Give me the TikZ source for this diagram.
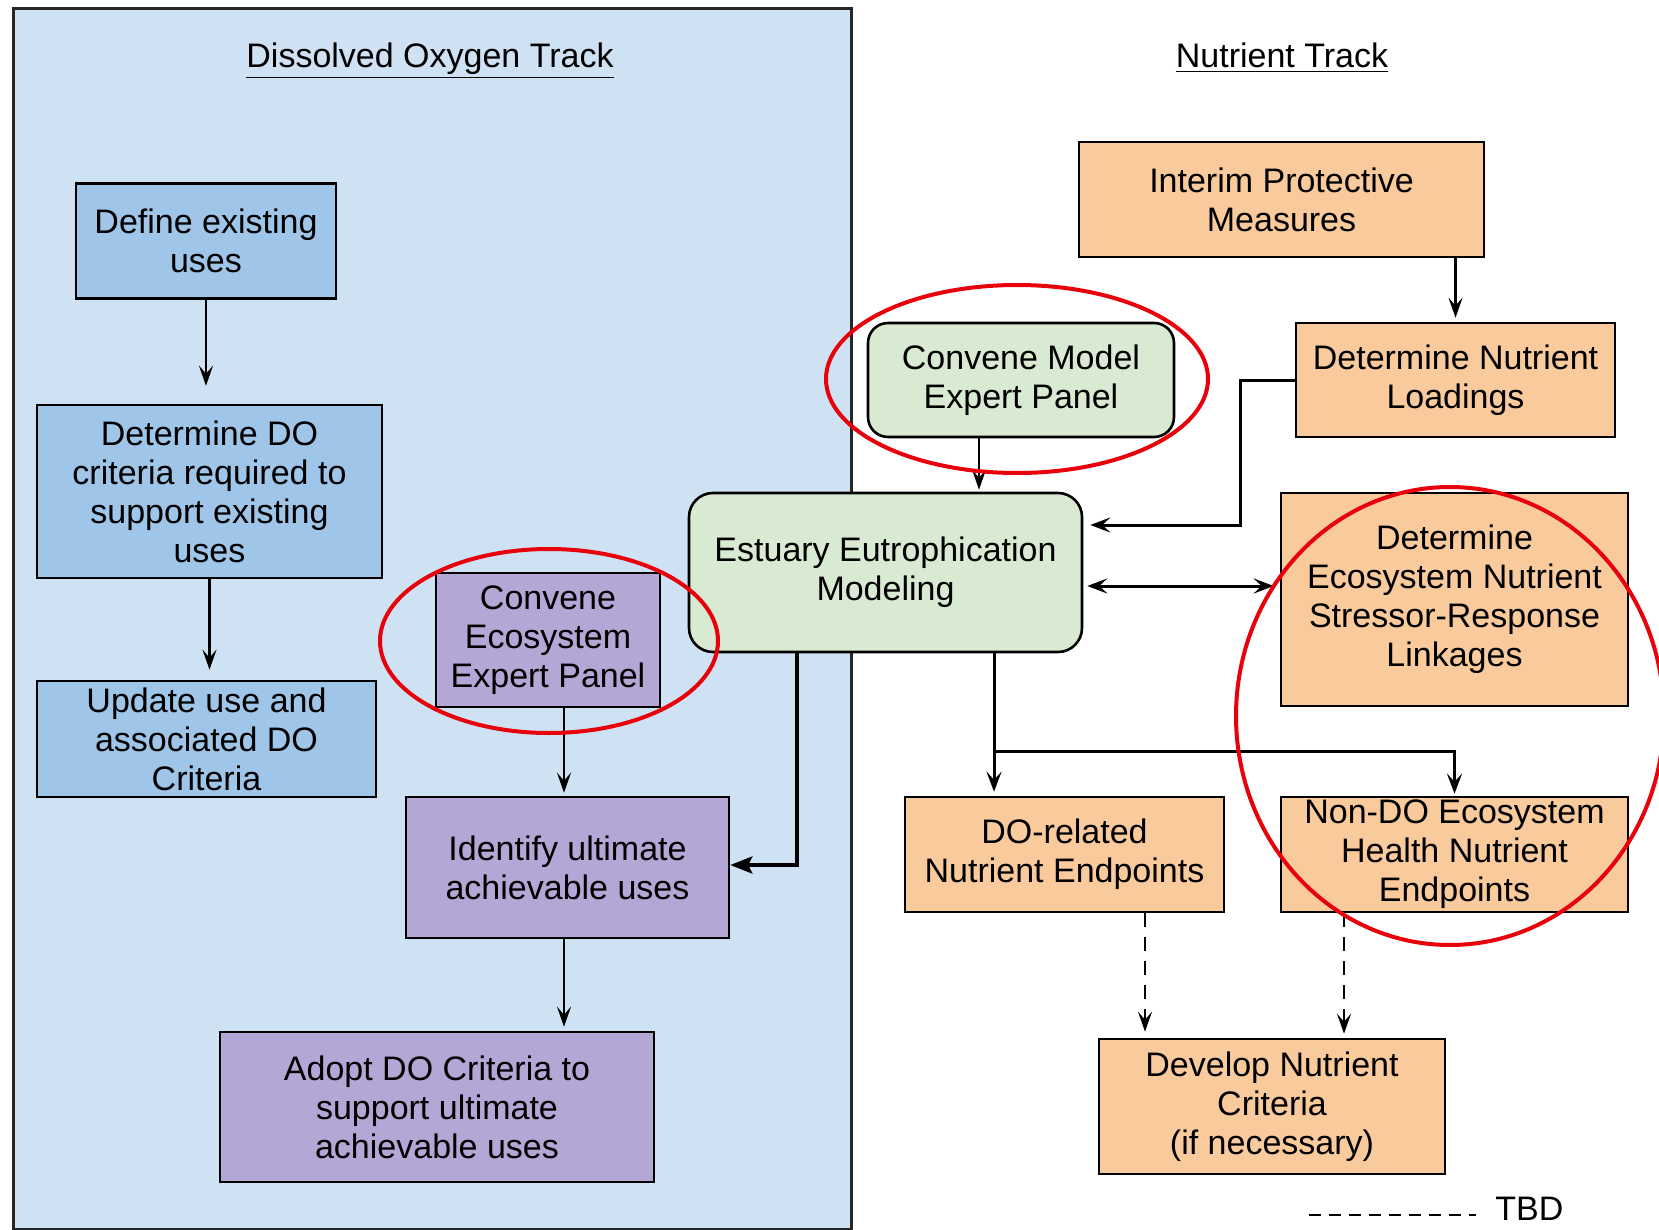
\documentclass[tikz,border=0pt]{standalone}
\usepackage{fontspec}
\setmainfont{Liberation Sans}
\usetikzlibrary{arrows.meta}
\definecolor{panelbg}{HTML}{CFE2F3}
\definecolor{boxblue}{HTML}{9FC5E8}
\definecolor{boxpurple}{HTML}{B4A7D6}
\definecolor{boxgreen}{HTML}{D9EAD3}
\definecolor{boxorange}{HTML}{F9CB9C}
\definecolor{ringred}{HTML}{E8000B}
\begin{document}
\begin{tikzpicture}[x=0.5pt,y=-0.5pt,
  box/.style={draw=black, line width=1.3pt, align=center, inner sep=0pt, font=\fontsize{17}{19.5}\selectfont},
  bluebox/.style={box, fill=boxblue},
  purplebox/.style={box, fill=boxpurple},
  greenbox/.style={box, fill=boxgreen, rounded corners=12pt},
  orangebox/.style={box, fill=boxorange},
  title/.style={font=\fontsize{17}{19.5}\selectfont},
  arr/.style={-{Stealth[length=10pt,width=7pt,inset=4pt]}, line width=1.2pt},
  barr/.style={-{Stealth[length=10pt,width=7.5pt,inset=4pt]}, line width=1.5pt},
  farr/.style={-{Stealth[length=11pt,width=8.5pt,inset=2pt]}, line width=2pt},
  dbarr/.style={{Stealth[length=10pt,width=7.5pt,inset=4pt]}-{Stealth[length=10pt,width=7.5pt,inset=4pt]}, line width=1.5pt},
  darr/.style={-{Stealth[length=10pt,width=7pt,inset=4pt]}, line width=1.2pt, dash pattern=on 7pt off 5pt},
  ring/.style={draw=ringred, line width=2pt},
]
\useasboundingbox (0,0) rectangle (1659,1230);
\clip (0,0) rectangle (1659,1230);

% panel
\draw[fill=panelbg, draw=black!85, line width=1.5pt] (13,9) rectangle (851,1229);

% titles
\node[title, anchor=base] (t1) at (430,68) {\underline{Dissolved Oxygen Track}};
\node[title, anchor=base] (t2) at (1282,68) {\underline{Nutrient Track}};

% DO track
\node[bluebox, minimum width=130pt, minimum height=57.5pt] (def) at (206,241) {Define existing\\uses};
\node[bluebox, minimum width=172.5pt, minimum height=86.5pt] (detDO) at (209.5,491.5) {Determine DO\\criteria required to\\support existing\\uses};
\node[bluebox, minimum width=169.5pt, minimum height=58pt] (upd) at (206.5,739) {Update use and\\associated DO\\Criteria};
\node[purplebox, minimum width=112pt, minimum height=67pt] (cep) at (548,640) {Convene\\Ecosystem\\Expert Panel};
\node[purplebox, minimum width=161.5pt, minimum height=70.5pt] (ident) at (567.5,867.5) {Identify ultimate\\achievable uses};
\node[purplebox, minimum width=217pt, minimum height=75pt] (adopt) at (437,1107) {Adopt DO Criteria to\\support ultimate\\achievable uses};

% modeling
\node[greenbox, minimum width=196.5pt, minimum height=79.5pt] (est) at (885.5,572.5) {Estuary Eutrophication\\Modeling};
\node[greenbox, rounded corners=10pt, minimum width=153pt, minimum height=57pt] (cmp) at (1021,380) {Convene Model\\Expert Panel};

% nutrient track
\node[orangebox, minimum width=202.5pt, minimum height=57.5pt] (interim) at (1281.5,199.5) {Interim Protective\\Measures};
\node[orangebox, minimum width=159.5pt, minimum height=57pt] (loads) at (1455.5,380) {Determine Nutrient\\Loadings};
\node[orangebox, minimum width=173.5pt, minimum height=106.5pt] (link) at (1454.5,599.5) {Determine\\Ecosystem Nutrient\\Stressor-Response\\Linkages};
\node[orangebox, minimum width=159.5pt, minimum height=57.5pt] (dorel) at (1064.5,854.5) {DO-related\\Nutrient Endpoints};
\node[orangebox, minimum width=173.5pt, minimum height=57.5pt] (nondo) at (1454.5,854.5) {Non-DO Ecosystem\\Health Nutrient\\Endpoints};
\node[orangebox, minimum width=173pt, minimum height=67.5pt] (dev) at (1272,1106.5) {Develop Nutrient\\Criteria\\(if necessary)};

% helper coordinates
\coordinate (cA) at (797,865);
\coordinate (cB) at (1240,525);
\coordinate (cC) at (0,586);
\coordinate (cD) at (994,751);
\coordinate (cE) at (979,0);
\coordinate (cF) at (564,0);
\coordinate (cG) at (1145,0);
\coordinate (cH) at (1344,0);
\coordinate (cI) at (1309,1215);
\coordinate (cJ) at (1476,1215);

% connectors
\draw[arr, shorten >=9pt] (def.south) -- (def.south |- detDO.north);
\draw[arr, shorten >=5pt] (detDO.south) -- (detDO.south |- upd.north);
\draw[arr, shorten >=1.5pt] (cep.south -| cF) -- (ident.north -| cF);
\draw[arr, shorten >=2pt] (ident.south -| cF) -- (adopt.north -| cF);
\draw[farr] (est.south -| cA) -- (cA) -- (ident.east |- cA);
\draw[arr, shorten >=1pt] (cmp.south -| cE) -- (est.north -| cE);
\draw[arr, shorten >=2pt] (interim.south -| loads.north) -- (loads.north);
\draw[barr, shorten >=3.5pt] (loads.west) -| (cB) -- (est.east |- cB);
\draw[dbarr, shorten <=2pt, shorten >=3pt] (est.east |- cC) -- (link.west |- cC);
\draw[line width=1.5pt] (est.south -| cD) -- (cD);
\draw[barr, shorten >=2pt] (cD) -- (dorel.north -| cD);
\draw[barr, shorten >=1pt] (cD) -| (nondo.north);
\draw[darr, shorten >=3pt] (dorel.south -| cG) -- (dev.north -| cG);
\draw[darr, shorten >=2pt] (nondo.south -| cH) -- (dev.north -| cH);

% red rings
\draw[ring] (1017,379) ellipse [x radius=95.5pt, y radius=47pt];
\draw[ring] (549,641) ellipse [x radius=84.5pt, y radius=46pt];
\draw[ring] (1450,716) ellipse [x radius=107pt, y radius=114.5pt];

% legend
\draw[line width=1.4pt, dash pattern=on 6pt off 4pt] (cI) -- (cJ);
\node[title, anchor=base west, inner sep=0pt] (tbd) at (1495,1220) {TBD};
\end{tikzpicture}
\end{document}
